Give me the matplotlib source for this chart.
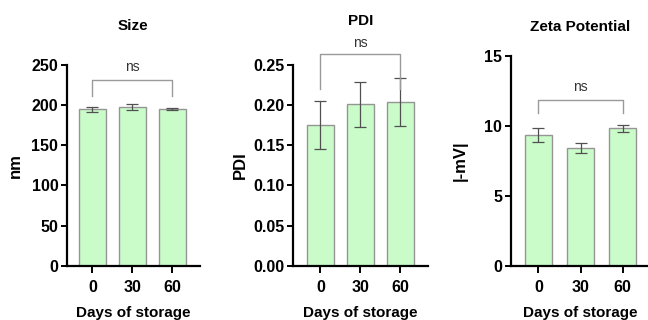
import matplotlib.pyplot as plt
import numpy as np

plt.rcParams['font.family'] = ['Liberation Sans', 'DejaVu Sans']

# data
days = ['0', '30', '60']
size_mean = [195, 198, 195]
size_err = [3, 4, 1.5]
pdi_mean = [0.175, 0.201, 0.2035]
pdi_err = [0.030, 0.028, 0.030]
zeta_mean = [9.36, 8.38, 9.8]
zeta_err = [0.5, 0.36, 0.27]

W, H = 648, 320
fig = plt.figure(figsize=(W / 100, H / 100), dpi=100)

bar_face = '#c9fcc9'
bar_edge = '#959595'
err_col = '#505050'
brk_col = '#9a9a9a'


def px_axes(left, right, top, bottom):
    '''axes from pixel box'''
    return fig.add_axes([left / W, 1 - bottom / H, (right - left) / W, (bottom - top) / H])


def panel(ax, mean, err, title, ylabel, yticks, ylim, xlim, width,
          brk_y, brk_drop, ns_y, title_pad, ylabel_pad):
    x = np.arange(len(days))
    ax.bar(x, mean, width=width, color=bar_face, edgecolor=bar_edge, linewidth=1, zorder=2)
    ax.errorbar(x, mean, yerr=err, fmt='none', ecolor=err_col, elinewidth=0.9,
                capsize=4.5, capthick=0.9, zorder=3)
    # significance bracket
    ax.plot([0, 0, 2, 2], [brk_drop, brk_y, brk_y, brk_drop], color=brk_col, lw=1,
            clip_on=False, zorder=4)
    ax.text(1, ns_y, 'ns', ha='center', va='center', fontsize=10, color='#333333',
            clip_on=False)
    ax.set_xlim(*xlim)
    ax.set_ylim(*ylim)
    ax.set_yticks(yticks)
    ax.set_xticks(x)
    ax.set_xticklabels(days)
    for s in ['top', 'right']:
        ax.spines[s].set_visible(False)
    for s in ['left', 'bottom']:
        ax.spines[s].set_linewidth(1.6)
    ax.tick_params(axis='both', width=1.4, length=4.5, labelsize=11.5, pad=1.5)
    ax.tick_params(axis='x', length=5, pad=5)
    for lab in ax.get_xticklabels() + ax.get_yticklabels():
        lab.set_fontweight('bold')
    ax.set_title(title, fontsize=11, fontweight='bold', pad=title_pad)
    ax.set_ylabel(ylabel, fontsize=12, fontweight='bold', labelpad=ylabel_pad)
    ax.set_xlabel('Days of storage', fontsize=11, fontweight='bold', labelpad=8)


ax1 = px_axes(66.7, 200, 65, 265.7)
panel(ax1, size_mean, size_err, 'Size', 'nm', [0, 50, 100, 150, 200, 250], (0, 250),
      (-0.645, 2.69), 0.675, 231, 212, 247, 25, 6)

ax2 = px_axes(293.3, 428, 65, 265.7)
panel(ax2, pdi_mean, pdi_err, 'PDI', 'PDI', [0, 0.05, 0.10, 0.15, 0.20, 0.25], (0, 0.25),
      (-0.68, 2.69), 0.675, 0.264, 0.22, 0.278, 29, 4)
ax2.set_yticklabels(['0.00', '0.05', '0.10', '0.15', '0.20', '0.25'])
for lab in ax2.get_yticklabels():
    lab.set_fontweight('bold')

ax3 = px_axes(510.7, 650, 55.7, 265.7)
panel(ax3, zeta_mean, zeta_err, 'Zeta Potential', '|-mV|', [0, 5, 10, 15], (0, 15),
      (-0.66, 2.65), 0.645, 11.86, 10.9, 12.77, 18, 12)

fig.savefig('out.png', dpi=100)
